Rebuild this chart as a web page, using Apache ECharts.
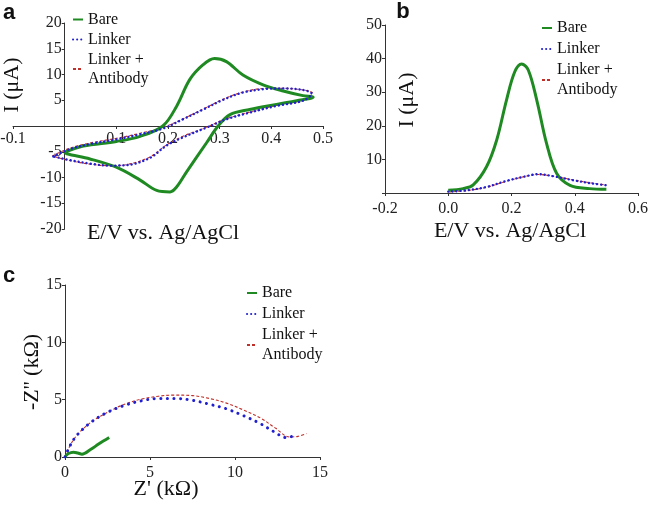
<!DOCTYPE html>
<html><head><meta charset="utf-8">
<script src="https://cdn.jsdelivr.net/npm/echarts@6/dist/echarts.min.js"></script>
<style>html,body{margin:0;padding:0;background:#fff}#c{width:649px;height:509px}</style>
</head><body><div id="c"></div>
<script>
// ---- Panel a: cyclic voltammetry (x: E/V, y: I uA) ----
const cvBare = [[0.0,-5.1],[0.036,-3.9],[0.1,-3.0],[0.146,-2.0],[0.19,0],[0.217,3.9],[0.242,9],[0.268,11.9],[0.29,13.1],[0.313,12.5],[0.345,9.9],[0.384,8.0],[0.423,6.8],[0.461,5.9],[0.481,5.6],
  [0.449,4.9],[0.41,4.2],[0.358,3.2],[0.32,2.2],[0.297,0],[0.275,-3.2],[0.236,-8.9],[0.217,-11.8],[0.204,-12.8],[0.178,-12.5],[0.146,-10.5],[0.1,-8.0],[0.049,-6.4],[0.004,-5.4],[0.0,-5.1]];
const cvLinker = [[-0.022,-5.9],[0.01,-4.5],[0.049,-3.5],[0.1,-2.6],[0.146,-1.6],[0.19,-0.5],[0.229,1.3],[0.268,3.2],[0.307,5.1],[0.345,6.5],[0.39,7.2],[0.423,7.3],[0.461,7.0],[0.478,6.3],
  [0.461,4.9],[0.41,3.9],[0.358,2.6],[0.313,1.3],[0.275,-0.3],[0.229,-2.2],[0.197,-3.8],[0.165,-6.2],[0.12,-7.6],[0.088,-7.7],[0.049,-7.3],[0.004,-6.5],[-0.022,-5.9]];
const cvLinkerAb = [[-0.024,-5.8],[0.01,-4.3],[0.049,-3.3],[0.1,-2.4],[0.146,-1.4],[0.19,-0.3],[0.229,1.4],[0.268,3.3],[0.307,5.2],[0.345,6.6],[0.39,7.3],[0.423,7.3],[0.461,7.0],[0.48,6.4],
  [0.461,5.0],[0.41,4.0],[0.358,2.7],[0.313,1.4],[0.275,-0.2],[0.229,-2.0],[0.197,-3.7],[0.165,-6.0],[0.12,-7.5],[0.088,-7.7],[0.049,-7.4],[0.004,-6.6],[-0.024,-5.8]];
// ---- Panel b: DPV ----
const dpvBare = [[0.0,0.8],[0.047,1.3],[0.079,2.4],[0.121,7.8],[0.153,15.7],[0.184,27.6],[0.21,36],[0.232,38.4],[0.253,36.6],[0.28,27.6],[0.311,14.7],[0.343,5.8],[0.385,2.3],[0.447,1.3],[0.5,1.1]];
const dpvLinker = [[0.0,0.4],[0.058,0.8],[0.121,1.8],[0.184,3.6],[0.237,4.8],[0.284,5.6],[0.332,5.0],[0.395,3.8],[0.458,2.8],[0.5,2.3]];
const dpvLinkerAb = [[0.0,0.3],[0.058,0.7],[0.121,1.7],[0.184,3.5],[0.237,4.8],[0.284,5.5],[0.332,5.0],[0.395,3.9],[0.458,2.9],[0.5,2.4]];
// ---- Panel c: Nyquist (Z' kOhm, -Z'' kOhm) ----
const eisBare = [[0,0],[0.2,0.3],[0.5,0.42],[0.75,0.35],[1.0,0.25],[1.5,0.65],[2.0,1.15],[2.6,1.7]];
const eisLinker = [[0,0],[0.3,1.0],[0.7,1.9],[1.5,3.0],[2.5,3.9],[3.5,4.5],[4.5,4.9],[5.5,5.1],[6.5,5.1],[7.5,4.95],[8.5,4.6],[9.5,4.2],[10.5,3.6],[11.5,2.9],[12.3,2.2],[13.0,1.7],[13.6,1.9]];
const eisLinkerAb = [[0,0],[0.3,1.0],[0.7,1.9],[1.5,3.0],[2.5,3.9],[3.5,4.6],[4.5,5.05],[5.5,5.3],[6.4,5.4],[7.5,5.35],[8.5,5.1],[9.5,4.7],[10.5,4.1],[11.5,3.4],[12.4,2.5],[13.2,1.75],[13.7,1.8],[14.2,2.05]];
// ---- ticks / labels ----
const names = ['Bare','Linker','Linker +\nAntibody'];
const xTitleCV = 'E/V vs. Ag/AgCl', yTitleI = 'I (μA)';
const xTitleZ = "Z' (kΩ)", yTitleZ = "-Z'' (kΩ)";

const FONT = "'Liberation Serif','Times New Roman',serif";
const GREEN = '#1f8a22', BLUE = '#2020d0', RED = '#c0302a', AX = '#333';

function axisCommon(extra){
  return Object.assign({
    type:'value', splitLine:{show:false},
    axisLine:{onZero:false,lineStyle:{color:AX,width:1}},
    axisTick:{show:true,length:3,lineStyle:{color:AX}}
  }, extra);
}
function lab(margin, formatter){
  const o = {color:'#222',fontFamily:FONT,fontSize:16,margin:margin};
  if (formatter) o.formatter = formatter;
  return o;
}
function fmt1(v){ return Math.abs(v)<1e-9 ? '' : v.toFixed(1); }
function noZero(v){ return v===0 ? '' : String(v); }

function seriesSet(gi, bare, lk, lkab, dotGap, dotW){
  return [
    {name:names[0],type:'line',xAxisIndex:gi,yAxisIndex:gi,data:bare,symbol:'none',smooth:0.35,
     lineStyle:{color:GREEN,width:3},itemStyle:{color:GREEN},z:3},
    {name:names[1],type:'line',xAxisIndex:gi,yAxisIndex:gi,data:lk,symbol:'none',smooth:0.35,
     lineStyle:{color:BLUE,width:dotW,type:[0.1,dotGap],cap:'round'},itemStyle:{color:BLUE},z:4},
    {name:names[2],type:'line',xAxisIndex:gi,yAxisIndex:gi,data:lkab,symbol:'none',smooth:0.35,
     lineStyle:{color:RED,width:1.1,type:[3,2]},itemStyle:{color:RED},z:2}
  ];
}
function legendAt(left, top, lh){
  return {orient:'vertical',left:left,top:top,padding:0,itemGap:1,itemWidth:10,itemHeight:8,
    data:names,itemStyle:{opacity:0},
    textStyle:{fontFamily:FONT,fontSize:16,color:'#111',lineHeight:lh},selectedMode:false};
}
function txt(x,y,t,size,rot,fam,weight){
  return {type:'text',x:x,y:y,rotation:rot||0,style:{text:t,fontFamily:fam||FONT,fontSize:size,fontWeight:weight||'normal',fill:'#111',align:'center',verticalAlign:'middle'}};
}
const G = {outerBoundsMode:'none', containLabel:false};

const chart = echarts.init(document.getElementById('c'), null, {renderer:'canvas'});
chart.setOption({
  animation:false,
  grid:[
    Object.assign({left:13, top:23, width:310, height:206}, G),
    Object.assign({left:385, top:25, width:253, height:168}, G),
    Object.assign({left:65, top:285, width:255, height:172}, G)
  ],
  xAxis:[
    // panel a: axis drawn through y = 0 (middle of the grid)
    axisCommon({gridIndex:0,position:'bottom',offset:-103,min:-0.1,max:0.5,interval:0.1,axisLabel:lab(5,fmt1)}),
    axisCommon({gridIndex:1,min:-0.2,max:0.6,interval:0.2,axisLabel:lab(8,v=>v.toFixed(1))}),
    axisCommon({gridIndex:2,min:0,max:15,interval:5,axisLabel:lab(8)})
  ],
  yAxis:[
    // panel a: axis drawn through x = 0
    axisCommon({gridIndex:0,position:'left',offset:-51.7,min:-20,max:20,interval:5,axisLabel:lab(3,noZero)}),
    axisCommon({gridIndex:1,min:0,max:50,interval:10,axisLabel:lab(3,noZero)}),
    axisCommon({gridIndex:2,min:0,max:15,interval:5,axisLabel:lab(3)})
  ],
  legend:[legendAt(72,10,19), legendAt(541,18,20), legendAt(246,283,20)],
  series:[].concat(
    seriesSet(0,cvBare,cvLinker,cvLinkerAb,4,2.4),
    seriesSet(1,dpvBare,dpvLinker,dpvLinkerAb,4,2.4),
    seriesSet(2,eisBare,eisLinker,eisLinkerAb,6.5,3)
  ),
  graphic:[
    txt(163,233,xTitleCV,22),
    txt(12,85,yTitleI,22,Math.PI/2),
    txt(510,231,xTitleCV,22),
    txt(407,100,yTitleI,22,Math.PI/2),
    txt(166,489,xTitleZ,22),
    txt(32,372,yTitleZ,22,Math.PI/2),
    txt(9,13,'a',22,0,"'Liberation Sans',Arial,sans-serif",'bold'),
    txt(403,12,'b',22,0,"'Liberation Sans',Arial,sans-serif",'bold'),
    txt(9,276,'c',22,0,"'Liberation Sans',Arial,sans-serif",'bold')
  ]
});
</script></body></html>
